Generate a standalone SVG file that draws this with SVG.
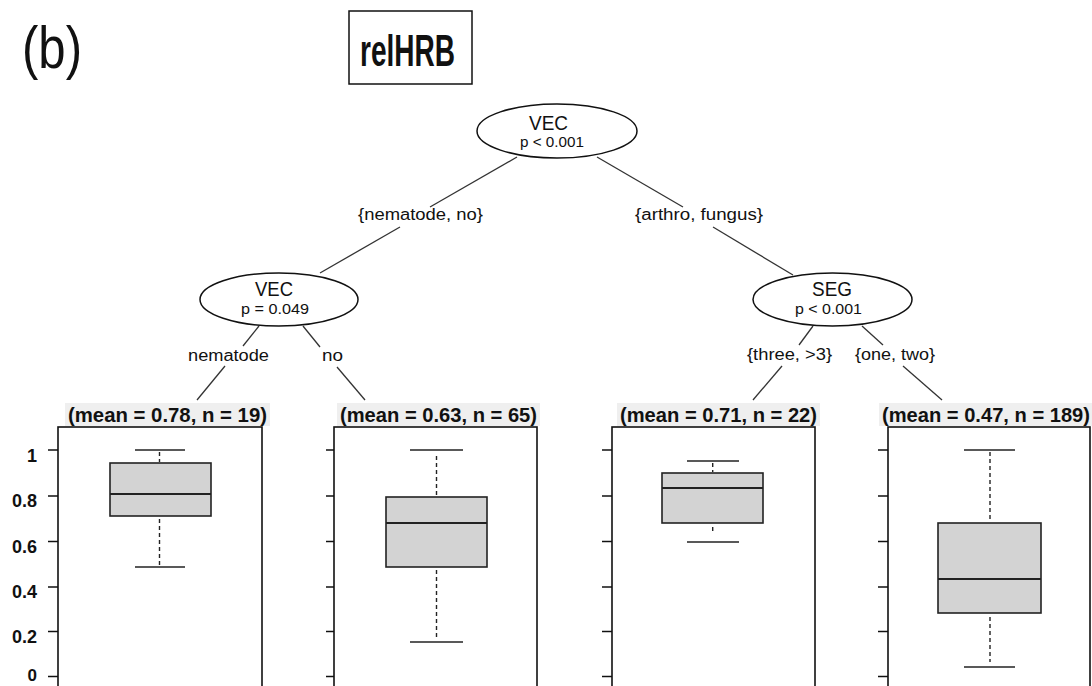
<svg xmlns="http://www.w3.org/2000/svg" width="1092" height="686" viewBox="0 0 1092 686">
<style>
.bg{fill:#ffffff}
.edge{stroke:#333;stroke-width:1.3;fill:none}
.node{fill:#fff;stroke:#111;stroke-width:1.5}
.t{font-family:"Liberation Sans",Arial,sans-serif;fill:#111}
.b{font-weight:bold}
.frame{fill:none;stroke:#111;stroke-width:1.6}
.tick{stroke:#111;stroke-width:1.5}
.box{fill:#d3d3d3;stroke:#222;stroke-width:1.6}
.med{stroke:#222;stroke-width:1.8}
.whisk{stroke:#222;stroke-width:1.5}
.dash{stroke:#222;stroke-width:1.4;stroke-dasharray:4 3}
.lbl{fill:#efefef}
</style>
<rect class="bg" x="0" y="0" width="1092" height="686"/>
<g id="panel-label">
<text class="t" x="22" y="68" font-size="60" textLength="60" lengthAdjust="spacingAndGlyphs">(b)</text>
</g>
<g id="title">
<rect x="349" y="11" width="123" height="73" fill="#fff" stroke="#111" stroke-width="1.5"/>
<text class="t b" x="360" y="66" font-size="45" textLength="95" lengthAdjust="spacingAndGlyphs">relHRB</text>
</g>
<g id="connectors">
<line class="edge" x1="517" y1="157" x2="430" y2="207"/>
<line class="edge" x1="400" y1="227" x2="320" y2="273"/>
<line class="edge" x1="597" y1="157" x2="683" y2="207"/>
<line class="edge" x1="713" y1="227" x2="793" y2="275"/>
<line class="edge" x1="259" y1="326" x2="243" y2="346"/>
<line class="edge" x1="225" y1="366" x2="197" y2="400"/>
<line class="edge" x1="303" y1="326" x2="320" y2="347"/>
<line class="edge" x1="337" y1="367" x2="365" y2="400"/>
<line class="edge" x1="813" y1="326" x2="799" y2="345"/>
<line class="edge" x1="782" y1="366" x2="753" y2="400"/>
<line class="edge" x1="862" y1="326" x2="883" y2="345"/>
<line class="edge" x1="903" y1="366" x2="942" y2="400"/>
<text class="t" x="358" y="220" font-size="16" textLength="125" lengthAdjust="spacingAndGlyphs">{nematode, no}</text>
<text class="t" x="635" y="220" font-size="16" textLength="128" lengthAdjust="spacingAndGlyphs">{arthro, fungus}</text>
<text class="t" x="188" y="361" font-size="16" textLength="81" lengthAdjust="spacingAndGlyphs">nematode</text>
<text class="t" x="322" y="361" font-size="16" textLength="21" lengthAdjust="spacingAndGlyphs">no</text>
<text class="t" x="747" y="360" font-size="16" textLength="85" lengthAdjust="spacingAndGlyphs">{three, &gt;3}</text>
<text class="t" x="855" y="360" font-size="16" textLength="80" lengthAdjust="spacingAndGlyphs">{one, two}</text>
</g>
<g id="node-root">
<ellipse class="node" cx="557" cy="131" rx="80" ry="27"/>
<text class="t" x="529" y="130" font-size="21" textLength="39" lengthAdjust="spacingAndGlyphs">VEC</text>
<text class="t" x="520" y="147" font-size="14" textLength="64" lengthAdjust="spacingAndGlyphs">p &lt; 0.001</text>
</g>
<g id="node-vec2">
<ellipse class="node" cx="279" cy="299.5" rx="79" ry="26.5"/>
<text class="t" x="255" y="296" font-size="21" textLength="38" lengthAdjust="spacingAndGlyphs">VEC</text>
<text class="t" x="241" y="314" font-size="14" textLength="68" lengthAdjust="spacingAndGlyphs">p = 0.049</text>
</g>
<g id="node-seg">
<ellipse class="node" cx="832.5" cy="299.5" rx="79.5" ry="26.5"/>
<text class="t" x="812" y="296" font-size="21" textLength="40" lengthAdjust="spacingAndGlyphs">SEG</text>
<text class="t" x="795" y="314" font-size="14" textLength="67" lengthAdjust="spacingAndGlyphs">p &lt; 0.001</text>
</g>
<g id="leaf-1">
<rect class="lbl" x="65" y="403" width="205" height="23"/>
<text class="t b" x="68" y="422" font-size="20" textLength="199" lengthAdjust="spacingAndGlyphs">(mean = 0.78, n = 19)</text>
<rect class="frame" x="58" y="427" width="204" height="280"/>
<line class="tick" x1="48" y1="450" x2="58" y2="450"/>
<line class="tick" x1="48" y1="496" x2="58" y2="496"/>
<line class="tick" x1="48" y1="541.5" x2="58" y2="541.5"/>
<line class="tick" x1="48" y1="587" x2="58" y2="587"/>
<line class="tick" x1="48" y1="631.5" x2="58" y2="631.5"/>
<line class="tick" x1="48" y1="676.5" x2="58" y2="676.5"/>
<text class="t b" x="37" y="462" font-size="18" text-anchor="end">1</text>
<text class="t b" x="37" y="507" font-size="18" text-anchor="end">0.8</text>
<text class="t b" x="37" y="553" font-size="18" text-anchor="end">0.6</text>
<text class="t b" x="37" y="598" font-size="18" text-anchor="end">0.4</text>
<text class="t b" x="37" y="643" font-size="18" text-anchor="end">0.2</text>
<text class="t b" x="37" y="681" font-size="17" text-anchor="end">0</text>
<line class="whisk" x1="135" y1="450" x2="185" y2="450"/>
<line class="dash" x1="159.5" y1="452" x2="159.5" y2="462"/>
<rect class="box" x="110" y="463" width="101" height="53"/>
<line class="med" x1="110" y1="494" x2="211" y2="494"/>
<line class="dash" x1="159.5" y1="519" x2="159.5" y2="566"/>
<line class="whisk" x1="135" y1="567" x2="185" y2="567"/>
</g>
<g id="leaf-2">
<rect class="lbl" x="337" y="403" width="203" height="23"/>
<text class="t b" x="340" y="422" font-size="20" textLength="197" lengthAdjust="spacingAndGlyphs">(mean = 0.63, n = 65)</text>
<rect class="frame" x="334" y="427" width="203" height="280"/>
<line class="tick" x1="326" y1="450" x2="334" y2="450"/>
<line class="tick" x1="326" y1="496" x2="334" y2="496"/>
<line class="tick" x1="326" y1="541.5" x2="334" y2="541.5"/>
<line class="tick" x1="326" y1="587" x2="334" y2="587"/>
<line class="tick" x1="326" y1="631.5" x2="334" y2="631.5"/>
<line class="tick" x1="326" y1="676.5" x2="334" y2="676.5"/>
<line class="whisk" x1="410" y1="450" x2="463" y2="450"/>
<line class="dash" x1="436.5" y1="456" x2="436.5" y2="496"/>
<rect class="box" x="386" y="497" width="101" height="70"/>
<line class="med" x1="386" y1="523" x2="487" y2="523"/>
<line class="dash" x1="436.5" y1="570" x2="436.5" y2="640"/>
<line class="whisk" x1="410" y1="642" x2="463" y2="642"/>
</g>
<g id="leaf-3">
<rect class="lbl" x="617" y="403" width="203" height="23"/>
<text class="t b" x="620" y="422" font-size="20" textLength="197" lengthAdjust="spacingAndGlyphs">(mean = 0.71, n = 22)</text>
<rect class="frame" x="612" y="427" width="203" height="280"/>
<line class="tick" x1="602" y1="450" x2="612" y2="450"/>
<line class="tick" x1="602" y1="496" x2="612" y2="496"/>
<line class="tick" x1="602" y1="541.5" x2="612" y2="541.5"/>
<line class="tick" x1="602" y1="587" x2="612" y2="587"/>
<line class="tick" x1="602" y1="631.5" x2="612" y2="631.5"/>
<line class="tick" x1="602" y1="676.5" x2="612" y2="676.5"/>
<line class="whisk" x1="687" y1="461" x2="739" y2="461"/>
<line class="dash" x1="712.7" y1="463" x2="712.7" y2="472"/>
<rect class="box" x="662" y="473" width="101" height="50"/>
<line class="med" x1="662" y1="488" x2="763" y2="488"/>
<line class="dash" x1="712.7" y1="527" x2="712.7" y2="534"/>
<line class="whisk" x1="687" y1="542" x2="739" y2="542"/>
</g>
<g id="leaf-4">
<rect class="lbl" x="879" y="403" width="213" height="23"/>
<text class="t b" x="882" y="422" font-size="20" textLength="208" lengthAdjust="spacingAndGlyphs">(mean = 0.47, n = 189)</text>
<rect class="frame" x="888" y="427" width="202" height="280"/>
<line class="tick" x1="878" y1="450" x2="888" y2="450"/>
<line class="tick" x1="878" y1="496" x2="888" y2="496"/>
<line class="tick" x1="878" y1="541.5" x2="888" y2="541.5"/>
<line class="tick" x1="878" y1="587" x2="888" y2="587"/>
<line class="tick" x1="878" y1="631.5" x2="888" y2="631.5"/>
<line class="tick" x1="878" y1="676.5" x2="888" y2="676.5"/>
<line class="whisk" x1="964" y1="450" x2="1015" y2="450"/>
<line class="dash" x1="990" y1="452" x2="990" y2="520"/>
<rect class="box" x="938" y="523" width="103" height="90"/>
<line class="med" x1="938" y1="579" x2="1041" y2="579"/>
<line class="dash" x1="990" y1="617" x2="990" y2="662"/>
<line class="whisk" x1="964" y1="667" x2="1015" y2="667"/>
</g>
</svg>
